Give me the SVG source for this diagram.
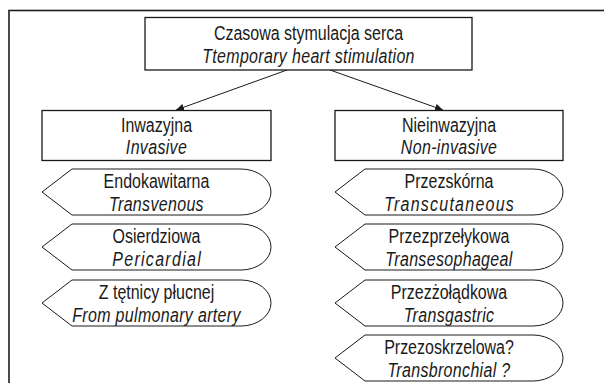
<svg xmlns="http://www.w3.org/2000/svg" width="604" height="383" viewBox="0 0 604 383">
<defs>
<style>
.frame{fill:none;stroke:#1e1e1e;stroke-width:1.6}
.box{fill:#fff;stroke:#1a1a1a;stroke-width:1.3}
.shape{fill:#fff;stroke:#1a1a1a;stroke-width:1}
.conn{stroke:#1a1a1a;stroke-width:1;fill:none}
text{font-family:"Liberation Sans",Arial,sans-serif;font-size:19.5px;fill:#1a1a1a;text-anchor:middle}
.it{font-style:italic;letter-spacing:0.4px}
.fit{letter-spacing:0}
</style>
<marker id="arr" markerUnits="userSpaceOnUse" markerWidth="9" markerHeight="7" refX="8" refY="3.5" orient="auto">
<path d="M0,0 L8,3.5 L0,7 Z" fill="#1a1a1a"/>
</marker>
</defs>
<rect width="604" height="383" fill="#fff"/>
<rect class="frame" x="9" y="10.5" width="620" height="400"/>
<g id="connectors">
<line class="conn" x1="287" y1="70" x2="176" y2="110" marker-end="url(#arr)"/>
<line class="conn" x1="330" y1="70" x2="443" y2="110" marker-end="url(#arr)"/>
</g>
<g id="root">
<rect class="box" x="145" y="17.5" width="327" height="52.5"/>
<text transform="translate(308.5 40) scale(0.82 1)">Czasowa stymulacja serca</text>
<text class="it" transform="translate(308.5 63) scale(0.82 1)">Ttemporary heart stimulation</text>
</g>
<g id="invasive">
<rect class="box" x="42" y="110.5" width="229" height="50"/>
<text transform="translate(156.5 132) scale(0.82 1)">Inwazyjna</text>
<text class="it" transform="translate(156.5 154) scale(0.82 1)">Invasive</text>
</g>
<g id="noninvasive">
<rect class="box" x="335" y="110.5" width="228" height="50"/>
<text transform="translate(449 132) scale(0.82 1)">Nieinwazyjna</text>
<text class="it" transform="translate(449 154) scale(0.82 1)">Non-invasive</text>
</g>
<g id="transvenous">
<path class="shape" d="M42,192 L72,169 H241 A30,23 0 0 1 241,215 H72 Z"/>
<text transform="translate(156.5 188) scale(0.82 1)">Endokawitarna</text>
<text class="it" transform="translate(156.5 210.5) scale(0.82 1)">Transvenous</text>
</g>
<g id="pericardial">
<path class="shape" d="M42,247 L72,224 H241 A30,23 0 0 1 241,270 H72 Z"/>
<text transform="translate(156.5 243) scale(0.82 1)">Osierdziowa</text>
<text class="it fit" transform="translate(156.5 265.5) scale(0.82 1)" x="-54" textLength="108" style="text-anchor:start">Pericardial</text>
</g>
<g id="pulmonary">
<path class="shape" d="M42,303 L72,280 H241 A30,23 0 0 1 241,326 H72 Z"/>
<text transform="translate(156.5 299) scale(0.82 1)">Z tętnicy płucnej</text>
<text class="it" transform="translate(156.5 321.5) scale(0.82 1)">From pulmonary artery</text>
</g>
<g id="transcutaneous">
<path class="shape" d="M335,192 L365,169 H533 A30,23 0 0 1 533,215 H365 Z"/>
<text transform="translate(449 188) scale(0.82 1)">Przezskórna</text>
<text class="it fit" transform="translate(449 210.5) scale(0.82 1)" x="-79" textLength="158" style="text-anchor:start">Transcutaneous</text>
</g>
<g id="transesophageal">
<path class="shape" d="M335,247 L365,224 H533 A30,23 0 0 1 533,270 H365 Z"/>
<text transform="translate(449 243) scale(0.82 1)">Przezprzełykowa</text>
<text class="it" transform="translate(449 265.5) scale(0.82 1)">Transesophageal</text>
</g>
<g id="transgastric">
<path class="shape" d="M335,303 L365,280 H533 A30,23 0 0 1 533,326 H365 Z"/>
<text transform="translate(449 299) scale(0.82 1)">Przezżołądkowa</text>
<text class="it" transform="translate(449 321.5) scale(0.82 1)">Transgastric</text>
</g>
<g id="transbronchial">
<path class="shape" d="M335,358 L365,335 H533 A30,23 0 0 1 533,381 H365 Z"/>
<text transform="translate(449 354) scale(0.82 1)">Przezoskrzelowa?</text>
<text class="it" transform="translate(449 376.5) scale(0.82 1)">Transbronchial ?</text>
</g>
</svg>
